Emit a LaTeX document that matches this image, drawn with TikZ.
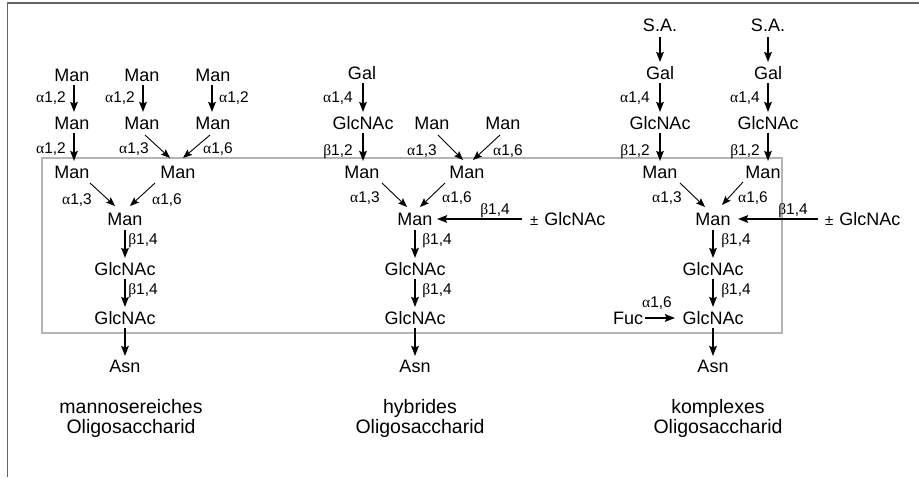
\documentclass[tikz,border=0pt]{standalone}
\usepackage{fontspec}
\setmainfont{Liberation Sans}
\newfontfamily\grkfont{Liberation Serif}
\usetikzlibrary{arrows.meta}
\newcommand\galpha{{\grkfont α}}
\newcommand\gbeta{{\grkfont β}}
\begin{document}
\begin{tikzpicture}[x=1pt,y=-1pt,
  sug/.style={font=\fontsize{18}{18}\selectfont, inner sep=0pt, text height=12.9pt, text depth=0pt},
  lnk/.style={font=\fontsize{15.5}{15.5}\selectfont, inner sep=0pt, text height=11pt, text depth=0pt},
  capt/.style={font=\fontsize{19.5}{20}\selectfont, align=center, inner sep=0pt},
  bond/.style={line width=1.8pt, -{Stealth[length=10pt,width=7.5pt,inset=1.5pt]}},
  dbond/.style={line width=0.9pt, -{Stealth[length=9pt,width=7pt,inset=1.5pt]}},
  framec/.style={draw={rgb,255:red,100;green,100;blue,100}, line width=1.4pt},
  corebox/.style={draw={rgb,255:red,180;green,180;blue,180}, line width=2.5pt}
]
\useasboundingbox (0,0) rectangle (919,477);
\draw[framec] (7.5,477) -- (7.5,3) -- (919,3);
\draw[corebox] (42,158) rectangle (782,333);

% ---------- panel 1 ----------
\node[sug] (a1) at (72,75) {Man};
\node[sug] (a2) at (142,75) {Man};
\node[sug] (a3) at (213,75) {Man};
\node[sug] (a4) at (72,123) {Man};
\node[sug] (a5) at (142,123) {Man};
\node[sug] (a6) at (213,123) {Man};
\node[sug] (a7) at (72,172) {Man};
\node[sug] (a8) at (178,172) {Man};
\node[sug] (a9) at (125,219) {Man};
\node[sug] (a10) at (125,269) {GlcNAc};
\node[sug] (a11) at (125,318) {GlcNAc};
\node[sug] (a12) at (125,366) {Asn};
\node[capt] (capA) at (131,418) {mannosereiches\\Oligosaccharid};

\draw[bond] ([shift={(2,10)}]a1.center) -- ([shift={(2,-11)}]a4.center);
\draw[bond] ([shift={(1,10)}]a2.center) -- ([shift={(1,-11)}]a5.center);
\draw[bond] ([shift={(-1,10)}]a3.center) -- ([shift={(-1,-11)}]a6.center);
\draw[bond] ([shift={(2,10)}]a4.center) -- ([shift={(2,-11)}]a7.center);
\draw[dbond] ([shift={(3,12)}]a5.center) -- ([shift={(-8,-14)}]a8.center);
\draw[dbond] ([shift={(-3,12)}]a6.center) -- ([shift={(5,-14)}]a8.center);
\draw[dbond] ([shift={(18,11)}]a7.center) -- ([shift={(-10,-13)}]a9.center);
\draw[dbond] ([shift={(-23,11)}]a8.center) -- ([shift={(5,-13)}]a9.center);
\draw[bond] ([shift={(0,11)}]a9.center) -- ([shift={(0,-11)}]a10.center);
\draw[bond] ([shift={(0,10)}]a10.center) -- ([shift={(0,-11)}]a11.center);
\draw[bond] ([shift={(0,10)}]a11.center) -- ([shift={(0,-10)}]a12.center);

\node[lnk] (la1) at (51,97) {\galpha1,2};
\node[lnk] (la2) at (120,97) {\galpha1,2};
\node[lnk] (la3) at (234,97) {\galpha1,2};
\node[lnk] (la4) at (51,148) {\galpha1,2};
\node[lnk] (la5) at (134,148) {\galpha1,3};
\node[lnk] (la6) at (218,148) {\galpha1,6};
\node[lnk] (la7) at (77,199) {\galpha1,3};
\node[lnk] (la8) at (167,199) {\galpha1,6};
\node[lnk] (la9) at (143,239) {\gbeta1,4};
\node[lnk] (la10) at (143,289) {\gbeta1,4};

% ---------- panel 2 ----------
\node[sug] (b1) at (362,73) {Gal};
\node[sug] (b2) at (363,123) {GlcNAc};
\node[sug] (b3) at (432,123) {Man};
\node[sug] (b4) at (503,123) {Man};
\node[sug] (b5) at (362,172) {Man};
\node[sug] (b6) at (467,172) {Man};
\node[sug] (b7) at (415,219) {Man};
\node[sug, anchor=west] (b8) at (530,219) {{\fontsize{15}{15}\selectfont ±}\hspace{6pt}GlcNAc};
\node[sug] (b9) at (415,269) {GlcNAc};
\node[sug] (b10) at (415,318) {GlcNAc};
\node[sug] (b11) at (415,366) {Asn};
\node[capt] (capB) at (420,418) {hybrides\\Oligosaccharid};

\draw[bond] ([shift={(1,10)}]b1.center) -- ([shift={(0,-11)}]b2.center);
\draw[bond] ([shift={(0,10)}]b2.center) -- ([shift={(1,-11)}]b5.center);
\draw[dbond] ([shift={(6,12)}]b3.center) -- ([shift={(-4,-12)}]b6.center);
\draw[dbond] ([shift={(-3,12)}]b4.center) -- ([shift={(6,-12)}]b6.center);
\draw[dbond] ([shift={(20,11)}]b5.center) -- ([shift={(-8,-12)}]b7.center);
\draw[dbond] ([shift={(-22,11)}]b6.center) -- ([shift={(5,-12)}]b7.center);
\draw[bond] ([shift={(-8,0)}]b8.west) -- ([shift={(22,0)}]b7.center);
\draw[bond] ([shift={(0,11)}]b7.center) -- ([shift={(0,-11)}]b9.center);
\draw[bond] ([shift={(0,10)}]b9.center) -- ([shift={(0,-11)}]b10.center);
\draw[bond] ([shift={(0,10)}]b10.center) -- ([shift={(0,-10)}]b11.center);

\node[lnk] (lb1) at (338,97) {\galpha1,4};
\node[lnk] (lb2) at (338,150) {\gbeta1,2};
\node[lnk] (lb3) at (422,150) {\galpha1,3};
\node[lnk] (lb4) at (508,150) {\galpha1,6};
\node[lnk] (lb5) at (365,197) {\galpha1,3};
\node[lnk] (lb6) at (457,197) {\galpha1,6};
\node[lnk] (lb7) at (495,209) {\gbeta1,4};
\node[lnk] (lb8) at (437,239) {\gbeta1,4};
\node[lnk] (lb9) at (437,289) {\gbeta1,4};

% ---------- panel 3 ----------
\node[sug] (c1) at (660,25) {S.A.};
\node[sug] (c2) at (768,25) {S.A.};
\node[sug] (c3) at (660,73) {Gal};
\node[sug] (c4) at (768,73) {Gal};
\node[sug] (c5) at (660,123) {GlcNAc};
\node[sug] (c6) at (768,123) {GlcNAc};
\node[sug] (c7) at (660,172) {Man};
\node[sug] (c8) at (763,172) {Man};
\node[sug] (c9) at (713,219) {Man};
\node[sug, anchor=west] (c10) at (825,219) {{\fontsize{15}{15}\selectfont ±}\hspace{6pt}GlcNAc};
\node[sug] (c11) at (713,269) {GlcNAc};
\node[sug] (c12) at (713,318) {GlcNAc};
\node[sug] (c13) at (628,318) {Fuc};
\node[sug] (c14) at (713,366) {Asn};
\node[capt] (capC) at (718,418) {komplexes\\Oligosaccharid};

\draw[bond] ([shift={(0,12)}]c1.center) -- ([shift={(0,-11)}]c3.center);
\draw[bond] ([shift={(0,12)}]c2.center) -- ([shift={(0,-11)}]c4.center);
\draw[bond] ([shift={(0,10)}]c3.center) -- ([shift={(0,-11)}]c5.center);
\draw[bond] ([shift={(0,10)}]c4.center) -- ([shift={(0,-11)}]c6.center);
\draw[bond] ([shift={(0,10)}]c5.center) -- ([shift={(0,-11)}]c7.center);
\draw[bond] ([shift={(0,10)}]c6.center) -- ([shift={(5,-11)}]c8.center);
\draw[dbond] ([shift={(20,11)}]c7.center) -- ([shift={(-8,-12)}]c9.center);
\draw[dbond] ([shift={(-20,10)}]c8.center) -- ([shift={(9,-14)}]c9.center);
\draw[bond] ([shift={(-7,0)}]c10.west) -- ([shift={(25,0)}]c9.center);
\draw[bond] ([shift={(0,11)}]c9.center) -- ([shift={(0,-11)}]c11.center);
\draw[bond] ([shift={(0,10)}]c11.center) -- ([shift={(0,-11)}]c12.center);
\draw[bond] ([shift={(0,10)}]c12.center) -- ([shift={(0,-10)}]c14.center);
\draw[bond] ([shift={(17,0)}]c13.center) -- ([shift={(-38,0)}]c12.center);

\node[lnk] (lc1) at (635,97) {\galpha1,4};
\node[lnk] (lc2) at (745,97) {\galpha1,4};
\node[lnk] (lc3) at (635,150) {\gbeta1,2};
\node[lnk] (lc4) at (745,150) {\gbeta1,2};
\node[lnk] (lc5) at (667,197) {\galpha1,3};
\node[lnk] (lc6) at (753,197) {\galpha1,6};
\node[lnk] (lc7) at (793,209) {\gbeta1,4};
\node[lnk] (lc8) at (736,239) {\gbeta1,4};
\node[lnk] (lc9) at (736,289) {\gbeta1,4};
\node[lnk] (lc10) at (657,302) {\galpha1,6};
\end{tikzpicture}
\end{document}
